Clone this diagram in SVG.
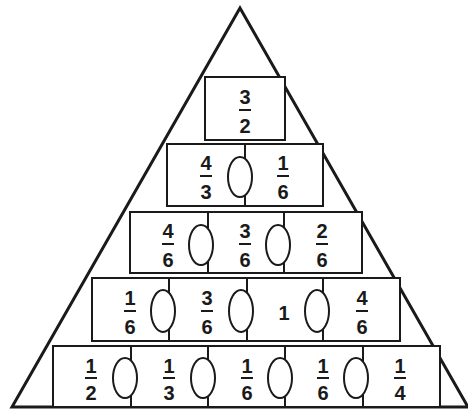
<svg xmlns="http://www.w3.org/2000/svg" width="468" height="409" viewBox="0 0 468 409">
<style>
.tri{fill:none;stroke:#1a1a1a;stroke-width:3;stroke-linejoin:miter}
.box{fill:#fff;stroke:#1a1a1a;stroke-width:2}
.div{stroke:#1a1a1a;stroke-width:2}
.ell{fill:#fff;stroke:#1a1a1a;stroke-width:2}
.bar{stroke:#1a1a1a;stroke-width:2}
text{font-family:"Liberation Sans",Arial,sans-serif;font-weight:bold;font-size:20px;fill:#1a1a1a;text-anchor:middle}
</style>
<rect width="468" height="409" fill="#fff"/>
<g id="pyramid"><polygon class="tri" points="240,8 12,407 468,407"/></g>

<g id="row1">
<rect class="box" x="205" y="77" width="80" height="63"/>
<text x="245" y="104">3</text><line class="bar" x1="239" y1="110" x2="251" y2="110"/><text x="245" y="133">2</text>
</g>

<g id="row2">
<rect class="box" x="167" y="144" width="156" height="62"/>
<line class="div" x1="245" y1="144" x2="245" y2="206"/>
<ellipse class="ell" cx="240" cy="177" rx="12" ry="20"/>
<text x="206" y="170">4</text><line class="bar" x1="200" y1="176" x2="212" y2="176"/><text x="206" y="199">3</text>
<text x="283" y="170">1</text><line class="bar" x1="277" y1="176" x2="289" y2="176"/><text x="283" y="199">6</text>
</g>

<g id="row3">
<rect class="box" x="130" y="212" width="232" height="61"/>
<line class="div" x1="208" y1="212" x2="208" y2="273"/>
<line class="div" x1="284" y1="212" x2="284" y2="273"/>
<ellipse class="ell" cx="201" cy="245" rx="12" ry="20"/>
<ellipse class="ell" cx="278" cy="245" rx="12" ry="20"/>
<text x="168" y="238">4</text><line class="bar" x1="162" y1="244" x2="174" y2="244"/><text x="168" y="267">6</text>
<text x="245" y="238">3</text><line class="bar" x1="239" y1="244" x2="251" y2="244"/><text x="245" y="267">6</text>
<text x="322" y="238">2</text><line class="bar" x1="316" y1="244" x2="328" y2="244"/><text x="322" y="267">6</text>
</g>

<g id="row4">
<rect class="box" x="92" y="278" width="308" height="63"/>
<line class="div" x1="169" y1="278" x2="169" y2="341"/>
<line class="div" x1="247" y1="278" x2="247" y2="341"/>
<line class="div" x1="323" y1="278" x2="323" y2="341"/>
<ellipse class="ell" cx="163" cy="311" rx="12" ry="21"/>
<ellipse class="ell" cx="241" cy="311" rx="12" ry="21"/>
<ellipse class="ell" cx="317" cy="311" rx="12" ry="21"/>
<text x="130" y="305">1</text><line class="bar" x1="124" y1="311" x2="136" y2="311"/><text x="130" y="334">6</text>
<text x="207" y="305">3</text><line class="bar" x1="201" y1="311" x2="213" y2="311"/><text x="207" y="334">6</text>
<text x="284" y="320">1</text>
<text x="362" y="305">4</text><line class="bar" x1="356" y1="311" x2="368" y2="311"/><text x="362" y="334">6</text>
</g>

<g id="row5">
<rect class="box" x="53" y="346" width="387" height="61"/>
<line class="div" x1="131" y1="346" x2="131" y2="407"/>
<line class="div" x1="208" y1="346" x2="208" y2="407"/>
<line class="div" x1="285" y1="346" x2="285" y2="407"/>
<line class="div" x1="363" y1="346" x2="363" y2="407"/>
<ellipse class="ell" cx="125" cy="378" rx="12" ry="20"/>
<ellipse class="ell" cx="203" cy="378" rx="12" ry="20"/>
<ellipse class="ell" cx="280" cy="378" rx="12" ry="20"/>
<ellipse class="ell" cx="356" cy="378" rx="12" ry="20"/>
<text x="91" y="373">1</text><line class="bar" x1="85" y1="378" x2="97" y2="378"/><text x="91" y="400">2</text>
<text x="169" y="373">1</text><line class="bar" x1="163" y1="378" x2="175" y2="378"/><text x="169" y="400">3</text>
<text x="247" y="373">1</text><line class="bar" x1="241" y1="378" x2="253" y2="378"/><text x="247" y="400">6</text>
<text x="323" y="373">1</text><line class="bar" x1="317" y1="378" x2="329" y2="378"/><text x="323" y="400">6</text>
<text x="400" y="373">1</text><line class="bar" x1="394" y1="378" x2="406" y2="378"/><text x="400" y="400">4</text>
</g>
</svg>
